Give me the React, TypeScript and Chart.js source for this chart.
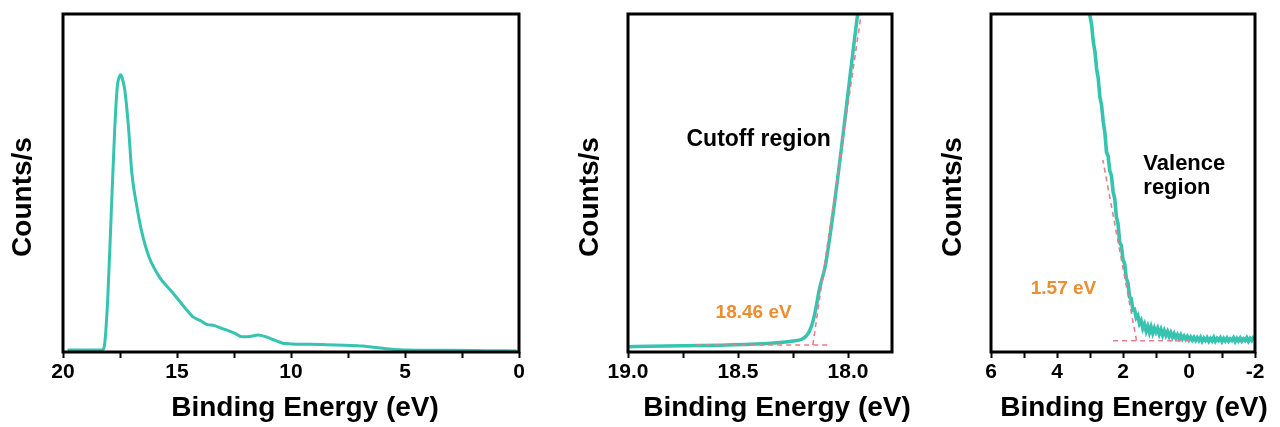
import React, { useEffect, useRef } from "react";
import { Chart, registerables } from "chart.js";

Chart.register(...registerables);

const TEAL = "#36c3b0";
const FIT = "#e3808b";
const ORANGE = "#ec8d2f";
const FONT = '"Liberation Sans", Arial, Helvetica, sans-serif';

// ---------- Panel 1: full UPS spectrum ----------
const energy1 = [19.8, 18.5, 18.27, 18.19, 18.04, 17.89, 17.74, 17.62, 17.55, 17.47, 17.4, 17.29, 17.13, 16.98, 16.76, 16.53, 16.23, 15.78, 15.17, 14.57, 14.3, 13.97, 13.7, 13.36, 13.04, 12.7, 12.46, 12.16, 11.8, 11.45, 11.1, 10.8, 10.35, 10.0, 9.14, 8.6, 7.63, 6.88, 6.4, 5.67, 4.9, 3.11, 1.5, 0.1];
const counts1 = [0.6, 0.6, 0.6, 1.6, 15.4, 40.0, 64.7, 78.5, 81.0, 82.0, 81.0, 77.5, 66.7, 52.9, 43.0, 35.1, 28.2, 22.3, 17.4, 12.4, 10.4, 9.3, 8.2, 7.8, 7.0, 6.2, 5.5, 4.5, 4.6, 5.0, 4.5, 3.7, 2.6, 2.4, 2.3, 2.2, 2.0, 1.8, 1.4, 0.9, 0.6, 0.5, 0.4, 0.3];
const tickLabels1 = [20, 15, 10, 5, 0];

// ---------- Panel 2: cutoff region ----------
const energy2 = [19.0, 18.9, 18.75, 18.55, 18.35, 18.25, 18.21, 18.19, 18.175, 18.16, 18.145, 18.13, 18.1, 17.956, 17.93];
const counts2 = [1.57, 1.69, 1.86, 2.07, 2.57, 3.25, 3.76, 4.73, 6.2, 8.9, 13.3, 18.6, 26.6, 100, 113];
const fitBaseE2 = [18.69, 18.09];
const fitBaseC2 = [2.07, 2.07];
const fitEdgeE2 = [18.16, 17.94];
const fitEdgeC2 = [2.07, 100];
const tickLabels2 = [19.0, 18.5, 18.0];

// ---------- Panel 3: valence region ----------
const energy3 = [
  3.10, 3.05, 3.00, 2.95, 2.90, 2.85, 2.80, 2.75, 2.70, 2.65,
  2.60, 2.55, 2.50, 2.45, 2.40, 2.35, 2.30, 2.25, 2.20, 2.15,
  2.10, 2.05, 2.00, 1.95, 1.90, 1.85, 1.80, 1.75, 1.70, 1.65,
  1.60, 1.55, 1.50, 1.45, 1.40, 1.35, 1.30, 1.25, 1.20, 1.15,
  1.10, 1.05, 1.00, 0.95, 0.90, 0.85, 0.80, 0.75, 0.70, 0.65,
  0.60, 0.55, 0.50, 0.45, 0.40, 0.35, 0.30, 0.25, 0.20, 0.15,
  0.10, 0.05, 0.00, -0.05, -0.10, -0.15, -0.20, -0.25, -0.30, -0.35,
  -0.40, -0.45, -0.50, -0.55, -0.60, -0.65, -0.70, -0.75, -0.80, -0.85,
  -0.90, -0.95, -1.00, -1.05, -1.10, -1.15, -1.20, -1.25, -1.30, -1.35,
  -1.40, -1.45, -1.50, -1.55, -1.60, -1.65, -1.70, -1.75, -1.80, -1.85,
  -1.90, -1.95, -2.00,
];
const counts3 = [
  107.5, 104.6, 99.4, 96.8, 91.7, 88.9, 83.8, 80.9, 75.4, 73.1,
  68.2, 65.0, 59.1, 57.9, 53.6, 52.2, 47.4, 45.3, 39.9, 37.9,
  32.4, 31.5, 27.3, 26.1, 21.8, 20.5, 16.2, 15.8, 12.4, 12.6,
  10.1, 10.8, 8.4, 9.3, 7.0, 8.2, 6.2, 7.6, 5.8, 7.4,
  5.6, 7.1, 5.9, 7.0, 5.3, 6.6, 5.0, 6.3, 4.9, 6.0,
  4.6, 5.7, 4.4, 5.4, 4.2, 5.1, 4.0, 5.0, 3.9, 4.7,
  3.8, 4.6, 3.6, 4.4, 3.5, 4.3, 3.4, 4.2, 3.4, 4.3,
  3.2, 4.1, 3.4, 4.2, 3.2, 4.0, 3.3, 4.3, 3.2, 4.0,
  3.4, 4.2, 3.1, 4.0, 3.3, 4.1, 3.2, 3.9, 3.4, 4.2,
  3.1, 4.0, 3.3, 4.1, 3.2, 3.9, 3.4, 4.2, 3.2, 4.0,
  3.4, 4.3, 4.1,
];
const fitBaseE3 = [2.3, 0.0];
const fitBaseC3 = [3.35, 3.35];
const fitEdgeE3 = [1.59, 2.61];
const fitEdgeC3 = [3.35, 56.8];
const tickLabels3 = [6, 4, 2, 0, -2];

type Note = { text: string; x: number; y: number; color: string; size: number; align: CanvasTextAlign };

type Panel = {
  left: number;
  width: number;
  plotLeft: number;
  plotRight: number;
  xMin: number;
  xMax: number;
  step: number;
  labels: number[];
  decimals: number;
  yTitleX: number;
  xTitleX: number;
  lineWidth: number;
  smooth: boolean;
  series: [number[], number[]];
  fits: [number[], number[]][];
  notes: Note[];
};

const panels: Panel[] = [
  {
    left: 0, width: 560, plotLeft: 63, plotRight: 519,
    xMin: 0, xMax: 20, step: 2.5, labels: tickLabels1, decimals: 0,
    yTitleX: 23, xTitleX: 305, lineWidth: 3, smooth: true,
    series: [energy1, counts1], fits: [], notes: [],
  },
  {
    left: 560, width: 360, plotLeft: 68, plotRight: 332,
    xMin: 17.8, xMax: 19.0, step: 0.25, labels: tickLabels2, decimals: 1,
    yTitleX: 30, xTitleX: 217, lineWidth: 3.5, smooth: true,
    series: [energy2, counts2],
    fits: [[fitBaseE2, fitBaseC2], [fitEdgeE2, fitEdgeC2]],
    notes: [
      { text: "Cutoff region", x: 18.406, y: 62.7, color: "#000", size: 23, align: "center" },
      { text: "18.46 eV", x: 18.429, y: 11.7, color: ORANGE, size: 19, align: "center" },
    ],
  },
  {
    left: 920, width: 360, plotLeft: 71, plotRight: 335,
    xMin: -2, xMax: 6, step: 1, labels: tickLabels3, decimals: 0,
    yTitleX: 33, xTitleX: 214, lineWidth: 3.6, smooth: false,
    series: [energy3, counts3],
    fits: [[fitBaseE3, fitBaseC3], [fitEdgeE3, fitEdgeC3]],
    notes: [
      { text: "Valence", x: 1.384, y: 55.7, color: "#000", size: 22, align: "left" },
      { text: "region", x: 1.384, y: 48.6, color: "#000", size: 22, align: "left" },
      { text: "1.57 eV", x: 3.804, y: 18.6, color: ORANGE, size: 19, align: "center" },
    ],
  },
];

const pts = (xs: number[], ys: number[]) => xs.map((x, i) => ({ x, y: ys[i] }));

function PanelChart({ p }: { p: Panel }) {
  const ref = useRef<HTMLCanvasElement | null>(null);
  useEffect(() => {
    if (!ref.current) return;
    const deco = {
      id: "deco" + p.left,
      afterDraw(chart: any) {
        const ctx = chart.ctx as CanvasRenderingContext2D;
        const ca = chart.chartArea;
        const xs = chart.scales.x;
        const ys = chart.scales.y;
        ctx.save();
        ctx.strokeStyle = "#000";
        ctx.lineWidth = 3;
        ctx.strokeRect(ca.left, ca.top, ca.right - ca.left, ca.bottom - ca.top);
        for (const n of p.notes) {
          ctx.font = `bold ${n.size}px ${FONT}`;
          ctx.fillStyle = n.color;
          ctx.textAlign = n.align;
          ctx.textBaseline = "middle";
          ctx.fillText(n.text, xs.getPixelForValue(n.x), ys.getPixelForValue(n.y));
        }
        ctx.fillStyle = "#000";
        ctx.font = `bold 28px ${FONT}`;
        ctx.textAlign = "center";
        ctx.textBaseline = "middle";
        ctx.fillText("Binding Energy (eV)", p.xTitleX, 408);
        ctx.translate(p.yTitleX, 197);
        ctx.rotate(-Math.PI / 2);
        ctx.fillText("Counts/s", 0, 0);
        ctx.restore();
      },
    };
    const chart = new Chart(ref.current, {
      type: "line",
      data: {
        datasets: [
          {
            data: pts(p.series[0], p.series[1]),
            borderColor: TEAL,
            borderWidth: p.lineWidth,
            pointRadius: 0,
            fill: false,
            tension: 0,
            cubicInterpolationMode: p.smooth ? "monotone" : "default",
            order: 1,
          },
          ...p.fits.map((f) => ({
            data: pts(f[0], f[1]),
            borderColor: FIT,
            borderWidth: 1.6,
            borderDash: [5, 4],
            pointRadius: 0,
            fill: false,
            tension: 0,
            order: 0,
          })),
        ],
      },
      options: {
        responsive: false,
        maintainAspectRatio: false,
        animation: false,
        events: [],
        layout: { padding: { left: p.plotLeft, right: p.width - p.plotRight, top: 14, bottom: 0 } },
        plugins: { legend: { display: false }, tooltip: { enabled: false } },
        scales: {
          x: {
            type: "linear",
            reverse: true,
            min: p.xMin,
            max: p.xMax,
            afterFit: (s: any) => {
              s.height = 75;
            },
            border: { display: false },
            grid: {
              drawOnChartArea: false,
              drawTicks: true,
              tickLength: 6,
              tickWidth: 2,
              tickColor: "#000",
            },
            ticks: {
              stepSize: p.step,
              includeBounds: false,
              autoSkip: false,
              maxRotation: 0,
              color: "#000",
              padding: 2,
              font: { family: FONT, size: 21, weight: "bold" },
              callback: (v: any) => {
                const val = Number(v);
                return p.labels.some((l) => Math.abs(l - val) < 1e-6) ? val.toFixed(p.decimals) : "";
              },
            },
            title: { display: false },
          },
          y: { display: false, min: 0, max: 100 },
        },
      },
      plugins: [deco],
    } as any);
    return () => chart.destroy();
  }, [p]);
  return (
    <canvas
      ref={ref}
      width={p.width}
      height={427}
      style={{ position: "absolute", left: p.left, top: 0, width: p.width, height: 427 }}
    />
  );
}

export default function App() {
  return (
    <div style={{ position: "absolute", left: 0, top: 0, width: 1280, height: 427, background: "#fff" }}>
      {panels.map((p) => (
        <PanelChart key={p.left} p={p} />
      ))}
    </div>
  );
}
